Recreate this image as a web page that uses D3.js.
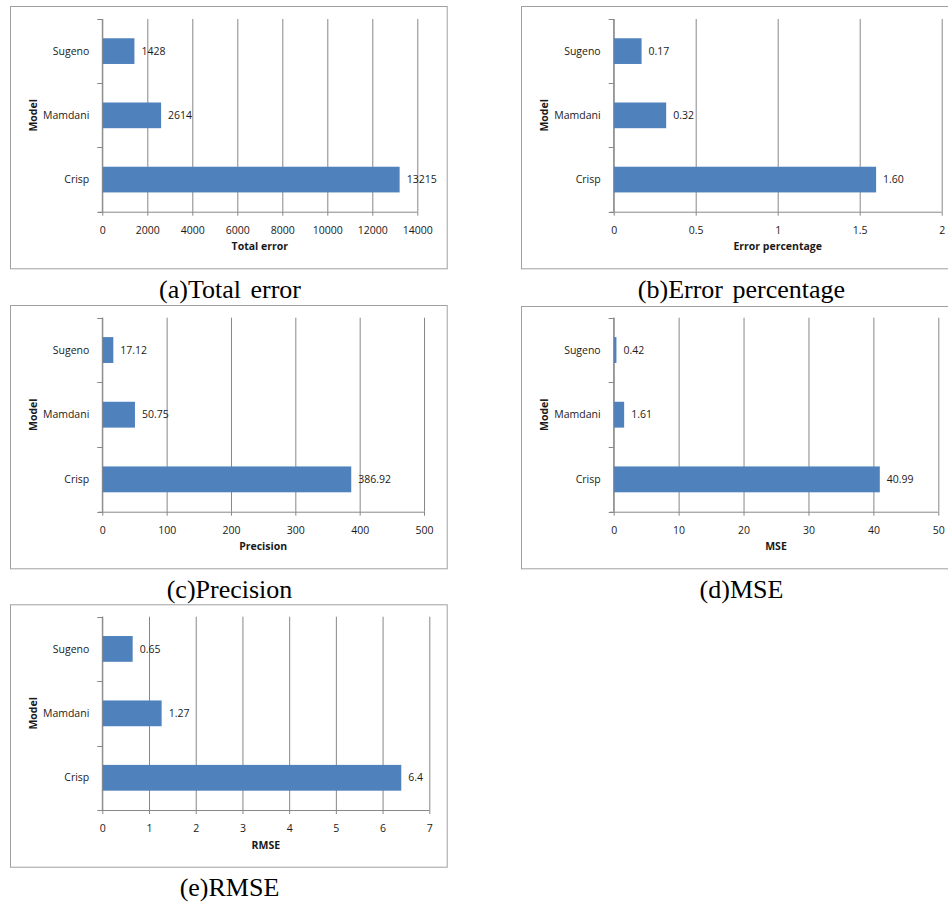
<!DOCTYPE html>
<html>
<head>
<meta charset="utf-8">
<script src="https://cdn.jsdelivr.net/npm/d3@7"></script>
<style>
  html, body { margin: 0; padding: 0; background: #fff; }
  svg { display: block; }
</style>
</head>
<body>
<svg id="chart" width="948" height="904"></svg>
<script>
// ---------- DATA ----------
const categories = ["Sugeno", "Mamdani", "Crisp"]; // top to bottom

const totalError      = [1428, 2614, 13215];
const totalErrorLbl   = ["1428", "2614", "13215"];
const totalErrorTicks = [0, 2000, 4000, 6000, 8000, 10000, 12000, 14000];

const errorPct        = [0.17, 0.32, 1.60];
const errorPctLbl     = ["0.17", "0.32", "1.60"];
const errorPctTicks   = [0, 0.5, 1, 1.5, 2];

const precision       = [17.12, 50.75, 386.92];
const precisionLbl    = ["17.12", "50.75", "386.92"];
const precisionTicks  = [0, 100, 200, 300, 400, 500];

const mse             = [0.42, 1.61, 40.99];
const mseLbl          = ["0.42", "1.61", "40.99"];
const mseTicks        = [0, 10, 20, 30, 40, 50];

const rmse            = [0.65, 1.27, 6.4];
const rmseLbl         = ["0.65", "1.27", "6.4"];
const rmseTicks       = [0, 1, 2, 3, 4, 5, 6, 7];

const axisTitles = ["Total error", "Error percentage", "Precision", "MSE", "RMSE"];
const captions   = ["(a)Total error", "(b)Error percentage", "(c)Precision", "(d)MSE", "(e)RMSE"];
const yAxisTitle = "Model";

// ---------- LAYOUT ----------
const layout = [
  { frame: [10, 6, 446.7, 268.3],   plot: [102.3, 19, 417.3, 211.7],   cap: [230, 298] },
  { frame: [521, 6, 962, 268.3],    plot: [613.7, 19, 941.7, 211.7],   cap: [741.5, 298] },
  { frame: [10, 305, 446.7, 568.3], plot: [102.3, 317.7, 424, 511.7],  cap: [229.5, 597.5] },
  { frame: [521, 306, 962, 568.3],  plot: [613.7, 317.7, 938.3, 511.7], cap: [741.5, 597.5] },
  { frame: [10, 604.3, 446.7, 866.7], plot: [102.3, 616.7, 429.3, 810], cap: [229.5, 896] }
];

const panels = [
  { values: totalError, labels: totalErrorLbl, ticks: totalErrorTicks },
  { values: errorPct,   labels: errorPctLbl,   ticks: errorPctTicks },
  { values: precision,  labels: precisionLbl,  ticks: precisionTicks },
  { values: mse,        labels: mseLbl,        ticks: mseTicks },
  { values: rmse,       labels: rmseLbl,       ticks: rmseTicks }
];

const BAR = "#4f81bd";
const GRID = "#878787";
const FRAME = "#a0a0a0";
const TXT = "#1a1a1a";
const SANS = "'Open Sans', 'DejaVu Sans', sans-serif";
const SERIF = "'Liberation Serif', 'DejaVu Serif', serif";

const svg = d3.select("#chart");

panels.forEach((p, i) => {
  const L = layout[i];
  const [fx0, fy0, fx1, fy1] = L.frame;
  const [px0, py0, px1, py1] = L.plot;
  const g = svg.append("g");

  // frame
  g.append("rect")
    .attr("x", fx0 + 0.5).attr("y", fy0 + 0.5)
    .attr("width", fx1 - fx0).attr("height", fy1 - fy0)
    .attr("fill", "#fff").attr("stroke", FRAME).attr("stroke-width", 1);

  const x = d3.scaleLinear()
    .domain([p.ticks[0], p.ticks[p.ticks.length - 1]])
    .range([px0, px1]);
  const y = d3.scaleBand()
    .domain(categories)
    .range([py0, py1])
    .paddingInner(0.6)
    .paddingOuter(0.3);

  // gridlines
  const grid = g.append("g")
    .attr("transform", `translate(0,${py1})`)
    .call(d3.axisBottom(x).tickValues(p.ticks).tickSize(-(py1 - py0)).tickFormat(""));
  grid.select(".domain").remove();
  grid.selectAll(".tick line").attr("stroke", GRID).attr("stroke-width", 1);

  // bars
  g.selectAll("rect.bar")
    .data(categories)
    .join("rect")
    .attr("class", "bar")
    .attr("x", x(0))
    .attr("y", c => y(c))
    .attr("width", (c, k) => x(p.values[k]) - x(0))
    .attr("height", y.bandwidth())
    .attr("fill", BAR);

  // data labels
  g.selectAll("text.dl")
    .data(categories)
    .join("text")
    .attr("class", "dl")
    .attr("x", (c, k) => x(p.values[k]) + 7)
    .attr("y", c => y(c) + y.bandwidth() / 2)
    .attr("dy", "0.35em")
    .attr("font-family", SANS).attr("font-size", 10.5).attr("fill", TXT)
    .text((c, k) => p.labels[k]);

  // x axis
  const xa = g.append("g")
    .attr("transform", `translate(0,${py1})`)
    .call(d3.axisBottom(x).tickValues(p.ticks).tickSize(4).tickPadding(11)
      .tickFormat(d => String(d)));
  xa.select(".domain").attr("d", `M${px0 - 4},0.5H${px1}`).attr("stroke", GRID);
  xa.selectAll(".tick line").attr("stroke", GRID);
  xa.selectAll(".tick text")
    .attr("font-family", SANS).attr("font-size", 10.5).attr("fill", TXT);

  // y axis
  const step = y.step();
  const sepTicks = d3.range(categories.length + 1).map(k => py0 + k * step);
  g.append("line")
    .attr("x1", px0).attr("x2", px0).attr("y1", py0).attr("y2", py1)
    .attr("stroke", GRID);
  g.selectAll("line.sep")
    .data(sepTicks)
    .join("line")
    .attr("class", "sep")
    .attr("x1", px0 - 5).attr("x2", px0)
    .attr("y1", d => Math.round(d) + 0.5).attr("y2", d => Math.round(d) + 0.5)
    .attr("stroke", GRID);
  g.selectAll("text.cat")
    .data(categories)
    .join("text")
    .attr("class", "cat")
    .attr("x", px0 - 13)
    .attr("y", c => y(c) + y.bandwidth() / 2)
    .attr("dy", "0.35em")
    .attr("text-anchor", "end")
    .attr("font-family", SANS).attr("font-size", 10.5).attr("fill", TXT)
    .text(c => c);

  // axis titles
  g.append("text")
    .attr("x", (px0 + px1) / 2).attr("y", py1 + 35)
    .attr("dy", "0.35em").attr("text-anchor", "middle")
    .attr("font-family", SANS).attr("font-size", 10.5).attr("font-weight", "bold").attr("fill", TXT)
    .text(axisTitles[i]);
  g.append("text")
    .attr("transform", `translate(${px0 - 69},${(py0 + py1) / 2}) rotate(-90)`)
    .attr("dy", "0.35em").attr("text-anchor", "middle")
    .attr("font-family", SANS).attr("font-size", 10.5).attr("font-weight", "bold").attr("fill", TXT)
    .text(yAxisTitle);

  // caption
  g.append("text")
    .attr("x", L.cap[0]).attr("y", L.cap[1])
    .attr("text-anchor", "middle")
    .attr("font-family", SERIF).attr("font-size", 26).attr("fill", "#000")
    .attr("word-spacing", 3)
    .text(captions[i]);
});
</script>
</body>
</html>
